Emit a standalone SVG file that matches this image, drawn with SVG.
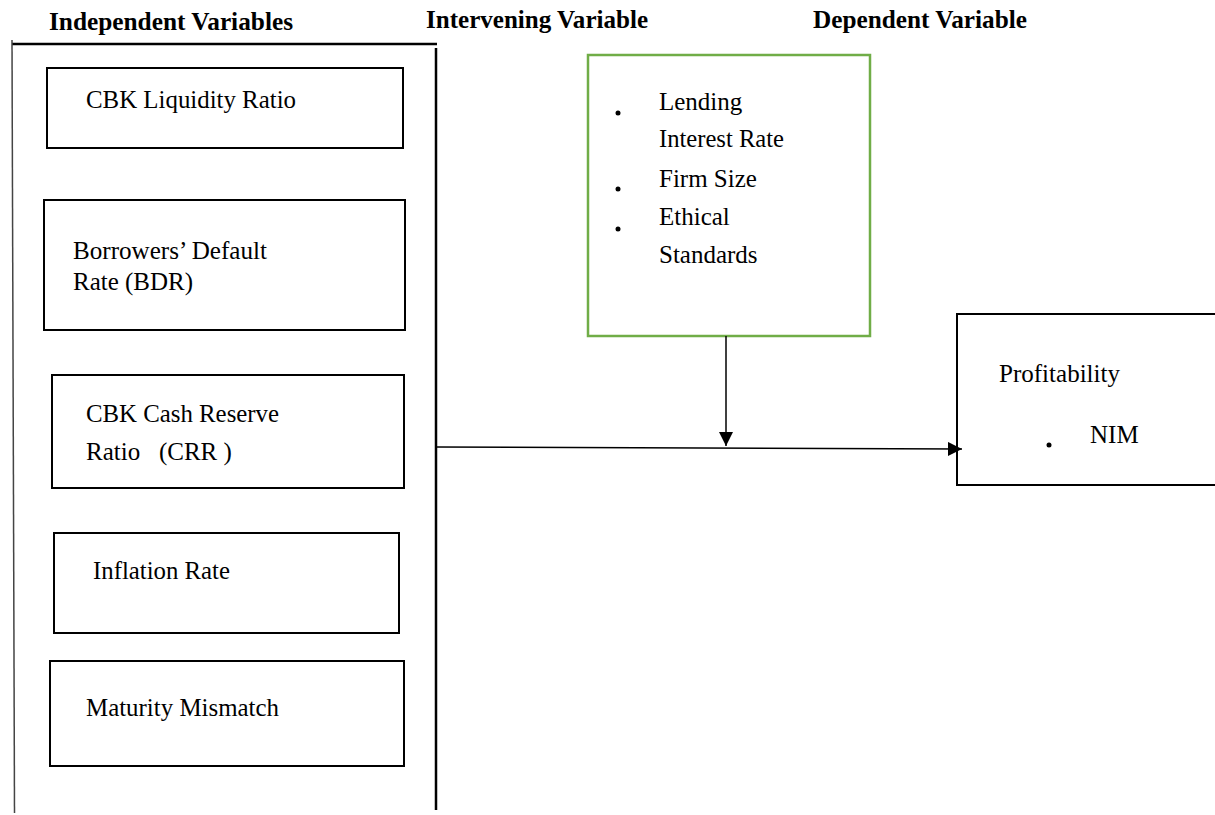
<svg xmlns="http://www.w3.org/2000/svg" width="1215" height="815" viewBox="0 0 1215 815">
  <style>
    .t { font-family: "Liberation Serif", "Times New Roman", serif; font-size: 25px; fill: #000; white-space: pre; }
    .h { font-family: "Liberation Serif", "Times New Roman", serif; font-size: 25px; font-weight: bold; fill: #000; }
    .box { fill: #fff; stroke: #000; stroke-width: 2; }
    .green { fill: #fff; stroke: #70AD47; stroke-width: 2.5; }
    .line { stroke: #000; stroke-width: 1.5; fill: none; }
  </style>
  <defs>
    <marker id="arrow" markerUnits="userSpaceOnUse" markerWidth="14" markerHeight="14" viewBox="0 0 14 14" refX="14" refY="7" orient="auto">
      <path d="M0,0 L14,7 L0,14 Z" fill="#000"/>
    </marker>
  </defs>
  <rect width="1215" height="815" fill="#fff"/>

  <g id="headers">
    <text class="h" x="49" y="30" textLength="244" lengthAdjust="spacingAndGlyphs">Independent Variables</text>
    <text class="h" x="426" y="28" textLength="222" lengthAdjust="spacingAndGlyphs">Intervening Variable</text>
    <text class="h" x="813" y="28" textLength="214" lengthAdjust="spacingAndGlyphs">Dependent Variable</text>
  </g>

  <g id="container">
    <line x1="12" y1="44" x2="437" y2="44" stroke="#000" stroke-width="2.5"/>
    <line x1="12" y1="40" x2="14.5" y2="813" stroke="#444" stroke-width="1.5"/>
    <line x1="436" y1="48" x2="436" y2="810" stroke="#000" stroke-width="2.5"/>
  </g>

  <g id="node-liquidity">
    <rect class="box" x="47" y="68" width="356" height="80"/>
    <text class="t" x="86" y="108" textLength="210" lengthAdjust="spacingAndGlyphs">CBK Liquidity Ratio</text>
  </g>

  <g id="node-bdr">
    <rect class="box" x="44" y="200" width="361" height="130"/>
    <text class="t" x="73" y="259" textLength="194" lengthAdjust="spacingAndGlyphs">Borrowers’ Default</text>
    <text class="t" x="73" y="290" textLength="120" lengthAdjust="spacingAndGlyphs">Rate (BDR)</text>
  </g>

  <g id="node-crr">
    <rect class="box" x="52" y="375" width="352" height="113"/>
    <text class="t" x="86" y="422" textLength="193" lengthAdjust="spacingAndGlyphs">CBK Cash Reserve</text>
    <text class="t" x="86" y="460">Ratio   (CRR )</text>
  </g>

  <g id="node-inflation">
    <rect class="box" x="54" y="533" width="345" height="100"/>
    <text class="t" x="93" y="579" textLength="137" lengthAdjust="spacingAndGlyphs">Inflation Rate</text>
  </g>

  <g id="node-maturity">
    <rect class="box" x="50" y="661" width="354" height="105"/>
    <text class="t" x="86" y="716" textLength="193" lengthAdjust="spacingAndGlyphs">Maturity Mismatch</text>
  </g>

  <g id="node-intervening">
    <rect class="green" x="588" y="55" width="282" height="281"/>
    <circle cx="618" cy="113" r="2.5" fill="#000"/>
    <circle cx="618" cy="189" r="2.5" fill="#000"/>
    <circle cx="618" cy="229" r="2.5" fill="#000"/>
    <text class="t" x="659" y="110">Lending</text>
    <text class="t" x="659" y="147" textLength="125" lengthAdjust="spacingAndGlyphs">Interest Rate</text>
    <text class="t" x="659" y="187">Firm Size</text>
    <text class="t" x="659" y="225">Ethical</text>
    <text class="t" x="659" y="263">Standards</text>
  </g>

  <g id="node-profitability">
    <rect class="box" x="957" y="314" width="270" height="171"/>
    <text class="t" x="999" y="382" textLength="121" lengthAdjust="spacingAndGlyphs">Profitability</text>
    <circle cx="1049" cy="445" r="2.5" fill="#000"/>
    <text class="t" x="1090" y="443">NIM</text>
  </g>

  <g id="connectors">
    <line class="line" x1="726" y1="336" x2="726" y2="446" marker-end="url(#arrow)"/>
    <line class="line" x1="436" y1="447" x2="962" y2="449" marker-end="url(#arrow)"/>
  </g>
</svg>
